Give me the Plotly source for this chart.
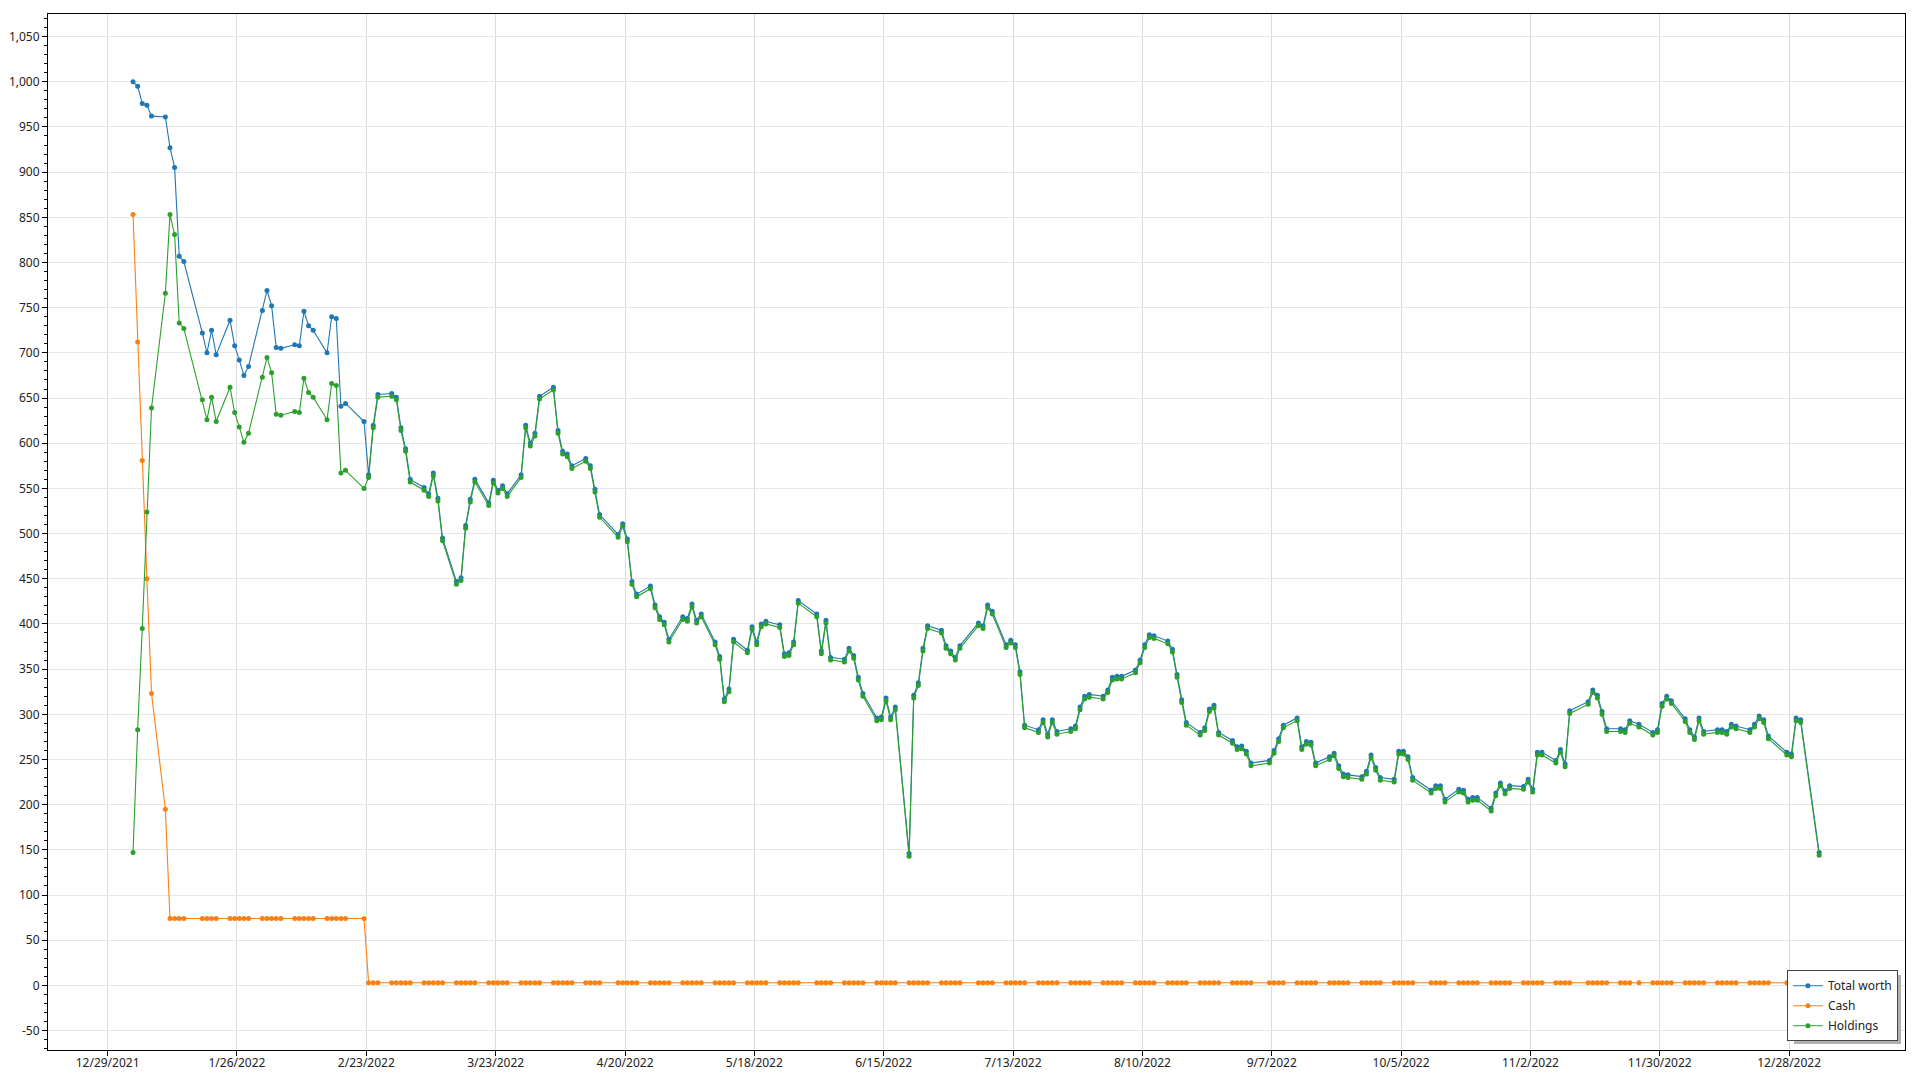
import pandas as pd
import plotly.graph_objects as go

# ---------------- data ----------------
first_day = "2022-01-03"
last_day = "2023-01-03"
closed_days = ["2022-01-17", "2022-02-21", "2022-04-15", "2022-05-30", "2022-07-04",
               "2022-09-05", "2022-10-10", "2022-11-11", "2022-11-24", "2022-12-26",
               "2023-01-02"]
sample_time = "12h"   # values are recorded at midday

total_worth = [
    # Jan
    1000, 995, 976, 974, 962, 961, 927, 905, 807, 801, 722, 700, 725, 698, 736, 708, 692, 675, 685, 747,
    # Feb
    769, 752, 706, 705, 709, 708, 746, 730, 725, 700, 740, 738, 641, 644, 624, 565, 620, 654, 655,
    # Mar
    651, 617, 594, 560, 551, 544, 567, 539, 495, 447, 451, 509, 538, 560, 534, 559, 548, 553, 544, 565, 620, 600, 611,
    # Apr
    652, 662, 614, 591, 588, 575, 583, 575, 549, 521, 499, 511, 494, 447, 433, 442, 421, 408, 402, 383,
    # May
    408, 406, 422, 404, 411, 380, 364, 317, 328, 383, 371, 397, 380, 400, 403, 399, 367, 368, 380, 426, 411,
    # Jun
    370, 404, 363, 361, 373, 365, 341, 323, 296, 297, 318, 297, 308, 146, 321, 335, 373, 398, 393, 376, 370, 363,
    # Jul
    376, 401, 398, 421, 414, 377, 382, 377, 347, 288, 283, 294, 278, 294, 281, 284, 287, 308, 320, 322,
    # Aug
    320, 327, 341, 342, 342, 349, 360, 377, 388, 387, 381, 372, 344, 316, 291, 280, 285, 306, 310, 280, 271, 264, 265,
    # Sep
    259, 246, 249, 260, 273, 288, 296, 264, 270, 269, 246, 253, 257, 243, 234, 233, 231, 237, 255, 241, 230,
    # Oct
    228, 259, 259, 253, 230, 216, 221, 221, 206, 217, 216, 206, 208, 208, 196, 213, 224, 215, 221, 220,
    # Nov
    228, 217, 258, 258, 249, 261, 245, 304, 314, 327, 321, 303, 284, 284, 283, 293, 289, 280, 283, 312,
    # Dec
    320, 315, 295, 283, 275, 296, 281, 283, 283, 281, 289, 287, 283, 289, 298, 294, 276, 258, 256, 296, 294,
    # Jan 2023
    147,
]

cash = [
    853, 712, 581, 450, 323, 195,
    74, 74, 74, 74, 74, 74, 74, 74, 74, 74, 74, 74, 74, 74,
    74, 74, 74, 74, 74, 74, 74, 74, 74, 74, 74, 74, 74, 74, 74,
    3, 3, 3, 3,
    3, 3, 3, 3, 3, 3, 3, 3, 3, 3, 3, 3, 3, 3, 3, 3, 3, 3, 3, 3, 3, 3, 3,
    3, 3, 3, 3, 3, 3, 3, 3, 3, 3, 3, 3, 3, 3, 3, 3, 3, 3, 3, 3,
    3, 3, 3, 3, 3, 3, 3, 3, 3, 3, 3, 3, 3, 3, 3, 3, 3, 3, 3, 3, 3,
    3, 3, 3, 3, 3, 3, 3, 3, 3, 3, 3, 3, 3, 3, 3, 3, 3, 3, 3, 3, 3, 3,
    3, 3, 3, 3, 3, 3, 3, 3, 3, 3, 3, 3, 3, 3, 3, 3, 3, 3, 3, 3,
    3, 3, 3, 3, 3, 3, 3, 3, 3, 3, 3, 3, 3, 3, 3, 3, 3, 3, 3, 3, 3, 3, 3,
    3, 3, 3, 3, 3, 3, 3, 3, 3, 3, 3, 3, 3, 3, 3, 3, 3, 3, 3, 3, 3,
    3, 3, 3, 3, 3, 3, 3, 3, 3, 3, 3, 3, 3, 3, 3, 3, 3, 3, 3, 3,
    3, 3, 3, 3, 3, 3, 3, 3, 3, 3, 3, 3, 3, 3, 3, 3, 3, 3, 3, 3,
    3, 3, 3, 3, 3, 3, 3, 3, 3, 3, 3, 3, 3, 3, 3, 3, 3, 3, 3, 3, 3,
    3,
]

holdings = [
    147, 283, 395, 524, 639, 766,
    853, 831, 733, 727, 648, 626, 651, 624, 662, 634, 618, 601, 611, 673,
    695, 678, 632, 631, 635, 634, 672, 656, 651, 626, 666, 664, 567, 570, 550,
    562, 617, 651, 652,
    648, 614, 591, 557, 548, 541, 564, 536, 492, 444, 448, 506, 535, 557, 531, 556, 545, 550, 541, 562, 617, 597, 608,
    649, 659, 611, 588, 585, 572, 580, 572, 546, 518, 496, 508, 491, 444, 430, 439, 418, 405, 399, 380,
    405, 403, 419, 401, 408, 377, 361, 314, 325, 380, 368, 394, 377, 397, 400, 396, 364, 365, 377, 423, 408,
    367, 401, 360, 358, 370, 362, 338, 320, 293, 294, 315, 294, 305, 143, 318, 332, 370, 395, 390, 373, 367, 360,
    373, 398, 395, 418, 411, 374, 379, 374, 344, 285, 280, 291, 275, 291, 278, 281, 284, 305, 317, 319,
    317, 324, 338, 339, 339, 346, 357, 374, 385, 384, 378, 369, 341, 313, 288, 277, 282, 303, 307, 277, 268, 261, 262,
    256, 243, 246, 257, 270, 285, 293, 261, 267, 266, 243, 250, 254, 240, 231, 230, 228, 234, 252, 238, 227,
    225, 256, 256, 250, 227, 213, 218, 218, 203, 214, 213, 203, 205, 205, 193, 210, 221, 212, 218, 217,
    225, 214, 255, 255, 246, 258, 242, 301, 311, 324, 318, 300, 281, 281, 280, 290, 286, 277, 280, 309,
    317, 312, 292, 280, 272, 293, 278, 280, 280, 278, 286, 284, 280, 286, 295, 291, 273, 255, 253, 293, 291,
    144,
]

series_names = ["Total worth", "Cash", "Holdings"]
series_colors = ["#1f77b4", "#ff7f0e", "#2ca02c"]

x_tick_start = "2021-12-29"
x_tick_count = 14
x_tick_step = "28D"
y_tick_values = list(range(-50, 1051, 50))

# ---------------- build ----------------
dates = pd.bdate_range(first_day, last_day)
dates = dates[~dates.isin(pd.to_datetime(closed_days))] + pd.Timedelta(sample_time)

x_ticks = pd.date_range(x_tick_start, periods=x_tick_count, freq=x_tick_step)
x_tick_text = [f"{d.month}/{d.day}/{d.year}" for d in x_ticks]
y_tick_text = [f"{v:,}" for v in y_tick_values]

fig = go.Figure()
for name, color, values in zip(series_names, series_colors, [total_worth, cash, holdings]):
    fig.add_trace(go.Scatter(
        x=dates, y=values, name=name, mode="lines+markers",
        legendgroup=name,
        line=dict(color=color, width=1.1),
        marker=dict(color=color, size=5, symbol="circle"),
    ))

font_family = "Noto Sans, Open Sans, sans-serif"

fig.update_layout(
    width=1920, height=1080,
    margin=dict(l=48, r=15, t=14, b=30),
    paper_bgcolor="white", plot_bgcolor="white",
    font=dict(family=font_family, size=12, color="#222"),
    showlegend=True,
    legend=dict(
        x=0.9962, y=0.0085, xanchor="right", yanchor="bottom",
        bgcolor="white", bordercolor="#444", borderwidth=1,
        font=dict(size=12, color="#222"),
        itemwidth=30, traceorder="grouped", tracegroupgap=1,
    ),
)

fig.update_xaxes(
    type="date", automargin=False,
    range=["2021-12-16 02:15", "2023-01-22 02:00"],
    tickmode="array", tickvals=x_ticks, ticktext=x_tick_text,
    ticks="outside", ticklen=5, tickcolor="black", ticklabelstandoff=-3,
    showgrid=True, gridcolor="#dcdcdc", gridwidth=1,
    showline=True, linecolor="black", linewidth=1, mirror=True,
    zeroline=False,
)
fig.update_yaxes(
    automargin=False,
    range=[-71.5, 1075],
    tickmode="array", tickvals=y_tick_values, ticktext=y_tick_text,
    ticks="outside", ticklen=5, tickcolor="black",
    minor=dict(tickmode="linear", tick0=0, dtick=10, ticks="outside", ticklen=3,
               tickcolor="black", showgrid=False),
    showgrid=True, gridcolor="#e6e6e6", gridwidth=1,
    showline=True, linecolor="black", linewidth=1, mirror=True,
    zeroline=False,
)

# legend drop shadow
fig.add_shape(type="rect", xref="paper", yref="paper",
              x0=(1794 - 48) / 1857, x1=(1901 - 48) / 1857,
              y0=(1050 - 1044) / 1036, y1=(1050 - 975) / 1036,
              fillcolor="#b0b0b0", line=dict(width=0), layer="above")

fig.write_html("out.html", config={"displayModeBar": False},
               post_script="document.body.style.margin='0';")
